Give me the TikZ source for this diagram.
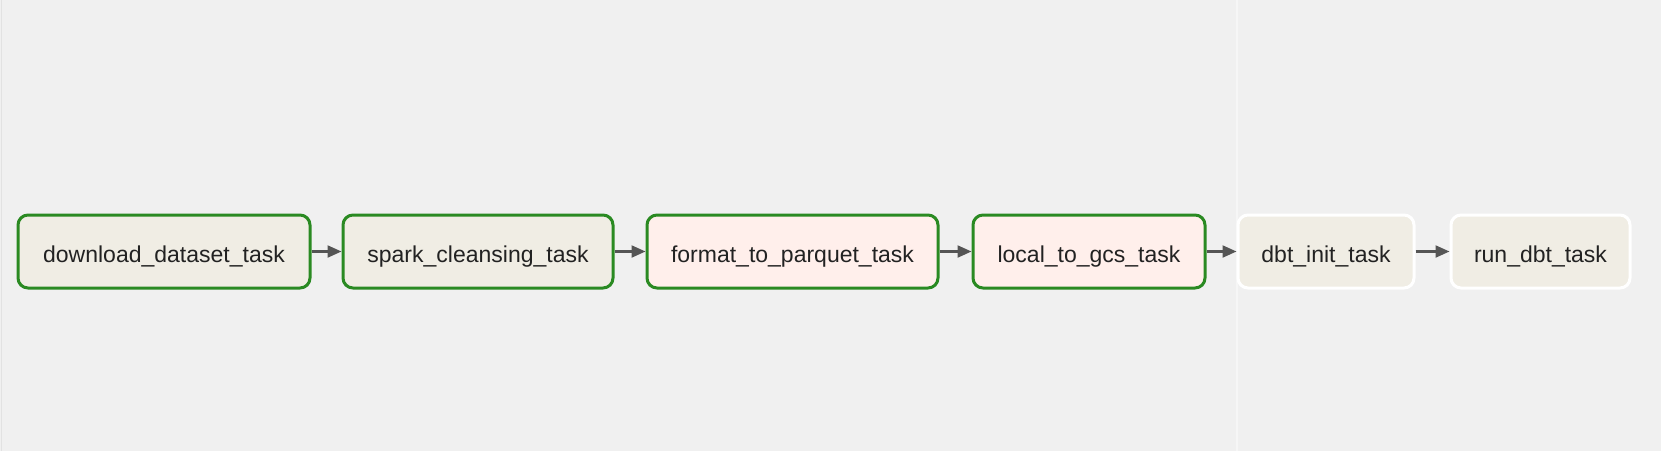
\documentclass[tikz,border=0pt]{standalone}
\usepackage{fontspec}
\setmainfont{Liberation Sans}
\usetikzlibrary{arrows.meta}
\definecolor{bg}{HTML}{F0F0F0}
\definecolor{okgreen}{HTML}{2A8A22}
\definecolor{bashfill}{HTML}{F0EDE4}
\definecolor{pyfill}{HTML}{FFEFEB}
\definecolor{arrowgray}{HTML}{555555}
\definecolor{txt}{HTML}{222222}
\tikzset{
  task/.style={draw, rounded corners=5pt, line width=1.5pt, minimum height=36.5pt,
    inner sep=0pt, text height=10.8pt, text depth=0pt,
    font=\fontsize{11.5}{13}\selectfont, text=txt},
  done/.style={task, draw=okgreen},
  idle/.style={task, draw=white},
  link/.style={draw=arrowgray, line width=1.1pt, -{Triangle[length=7pt,width=6pt]}}
}
\begin{document}
\begin{tikzpicture}[x=0.5pt,y=-0.5pt]
\fill[bg] (0,0) rectangle (1661,451);
\useasboundingbox (0,0) rectangle (1661,451);
\draw[black!6!bg, line width=0.6pt] (1.2,0) -- (1.2,451);
\draw[white!40!bg, line width=0.6pt] (1237,0) -- (1237,451);
\node[done, fill=bashfill, minimum width=146pt] (n1) at (164,251.5) {download\_dataset\_task};
\node[done, fill=bashfill, minimum width=135pt] (n2) at (478,251.5) {spark\_cleansing\_task};
\node[done, fill=pyfill, minimum width=145.5pt] (n3) at (792.5,251.5) {format\_to\_parquet\_task};
\node[done, fill=pyfill, minimum width=116pt] (n4) at (1089,251.5) {local\_to\_gcs\_task};
\node[idle, fill=bashfill, minimum width=88pt] (n5) at (1326,251.5) {dbt\_init\_task};
\node[idle, fill=bashfill, minimum width=89.5pt] (n6) at (1540.5,251.5) {run\_dbt\_task};
\draw[link] (n1) -- (n2);
\draw[link] (n2) -- (n3);
\draw[link] (n3) -- (n4);
\draw[link] (n4) -- (n5);
\draw[link] (n5) -- (n6);
\end{tikzpicture}
\end{document}
